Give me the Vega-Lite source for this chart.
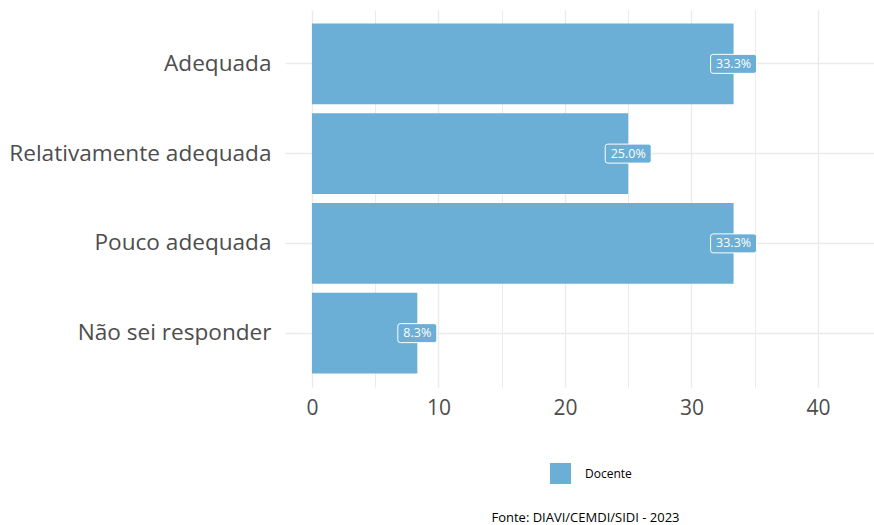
{
  "$schema": "https://vega.github.io/schema/vega-lite/v6.json",
  "autosize": "none",
  "width": 589,
  "height": 377,
  "padding": {"left": 285, "top": 10, "right": 0, "bottom": 138},
  "background": "white",
  "config": {
    "font": "Open Sans",
    "view": {"stroke": null}
  },
  "title": {
    "text": "Fonte: DIAVI/CEMDI/SIDI - 2023",
    "orient": "bottom",
    "anchor": "middle",
    "dx": 6,
    "offset": 28,
    "fontSize": 13,
    "fontWeight": "normal",
    "color": "black",
    "font": "Open Sans"
  },
  "data": {
    "values": [
      {"categoria": "Adequada", "valor": 33.33, "rotulo": "33.3%"},
      {"categoria": "Relativamente adequada", "valor": 25.0, "rotulo": "25.0%"},
      {"categoria": "Pouco adequada", "valor": 33.33, "rotulo": "33.3%"},
      {"categoria": "Não sei responder", "valor": 8.33, "rotulo": "8.3%"}
    ]
  },
  "encoding": {
    "y": {
      "field": "categoria",
      "type": "nominal",
      "sort": null,
      "title": null,
      "scale": {"paddingInner": 0.1, "paddingOuter": 0.15},
      "axis": {
        "domain": false,
        "ticks": false,
        "grid": true,
        "bandPosition": 0.5,
        "gridColor": "#ebebeb",
        "gridWidth": 1.4,
        "labelFontSize": 22.6,
        "labelColor": "#4d4d4d",
        "labelPadding": 14,
        "labelLimit": 400
      }
    }
  },
  "layer": [
    {
      "mark": {"type": "bar", "color": "#6BAED6"},
      "encoding": {
        "x": {
          "field": "valor",
          "type": "quantitative",
          "title": null,
          "scale": {"domain": [-2.13, 44.43], "nice": false, "zero": false},
          "axis": {
            "values": [0, 5, 10, 15, 20, 25, 30, 35, 40],
            "labelExpr": "datum.value % 10 === 0 ? datum.label : ''",
            "domain": false,
            "ticks": false,
            "grid": true,
            "gridColor": "#ebebeb",
            "gridWidth": {"condition": {"test": "datum.value % 10 === 0", "value": 1.4}, "value": 1},
            "labelFontSize": 21,
            "labelColor": "#4d4d4d",
            "labelPadding": 10,
            "labelFlush": false
          }
        },
        "x2": {"datum": 0},
        "color": {
          "datum": "Docente",
          "type": "nominal",
          "scale": {"range": ["#6BAED6"]},
          "legend": {
            "title": null,
            "orient": "none",
            "legendX": 265,
            "legendY": 453,
            "padding": 0,
            "symbolType": "square",
            "symbolSize": 441,
            "symbolStrokeWidth": 0,
            "labelFontSize": 12,
            "labelColor": "black",
            "labelOffset": 14,
            "labelFont": "Open Sans"
          }
        }
      }
    },
    {
      "mark": {"type": "point", "filled": true, "color": "#6BAED6", "stroke": "white", "strokeWidth": 1, "opacity": 1},
      "encoding": {
        "x": {"field": "valor", "type": "quantitative"},
        "shape": {
          "condition": {"test": "datum.valor < 10", "value": "M-0.87,-0.487 L0.87,-0.487 Q1,-0.487 1,-0.36 L1,0.36 Q1,0.487 0.87,0.487 L-0.87,0.487 Q-1,0.487 -1,0.36 L-1,-0.36 Q-1,-0.487 -0.87,-0.487 Z"},
          "value": "M-0.89,-0.413 L0.89,-0.413 Q1,-0.413 1,-0.3 L1,0.3 Q1,0.413 0.89,0.413 L-0.89,0.413 Q-1,0.413 -1,0.3 L-1,-0.3 Q-1,-0.413 -0.89,-0.413 Z"
        },
        "size": {"condition": {"test": "datum.valor < 10", "value": 1521}, "value": 2116}
      }
    },
    {
      "mark": {"type": "text", "color": "white", "fontSize": 12.5, "baseline": "middle", "align": "center"},
      "encoding": {
        "x": {"field": "valor", "type": "quantitative"},
        "text": {"field": "rotulo"}
      }
    }
  ]
}
